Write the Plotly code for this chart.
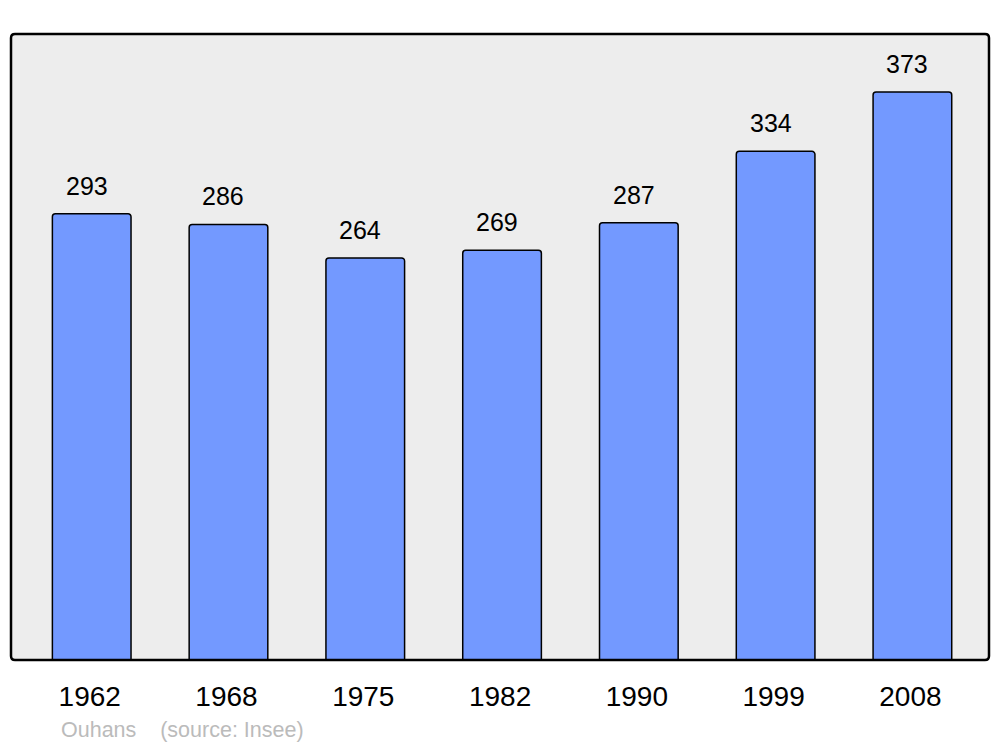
import plotly.graph_objects as go

years = ["1962", "1968", "1975", "1982", "1990", "1999", "2008"]
population = [293, 286, 264, 269, 287, 334, 373]
commune = "Ouhans"
source = "(source: Insee)"

fig = go.Figure()
fig.add_trace(go.Bar(
    x=years, y=population, width=0.575,
    marker=dict(color="#7399ff", line=dict(color="#000000", width=1.5)),
    hoverinfo="skip",
))

for i, v in enumerate(population):
    fig.add_annotation(x=i, y=v, text=str(v), showarrow=False,
                       yanchor="middle", yshift=28, xshift=-5,
                       font=dict(family="Liberation Sans, Arial", size=25, color="#000"))

fig.add_annotation(xref="paper", yref="paper", x=48/978, y=-(730-660)/626,
                   xanchor="left", yanchor="middle", showarrow=False,
                   text=commune + "\u00a0\u00a0\u00a0\u00a0" + source,
                   font=dict(family="Liberation Sans, Arial", size=21.5, color="#bbbbbb"))

# rounded plot frame
rx, ry = 4 / 978, 4 / 626
path = (f"M {rx},0 L {1-rx},0 Q 1,0 1,{ry} L 1,{1-ry} Q 1,1 {1-rx},1 "
        f"L {rx},1 Q 0,1 0,{1-ry} L 0,{ry} Q 0,0 {rx},0 Z")
fig.add_shape(type="path", xref="paper", yref="paper", path=path,
              line=dict(color="#000", width=2.5), fillcolor="rgba(0,0,0,0)", layer="above")

fig.update_layout(
    width=1000, height=747,
    margin=dict(l=11, r=11, t=34, b=87),
    plot_bgcolor="#ededed", paper_bgcolor="#ffffff",
    showlegend=False, barcornerradius=3,
    xaxis=dict(type="category", range=[-0.59, 6.56], showgrid=False, zeroline=False,
               ticks="outside", ticklen=11, tickcolor="rgba(0,0,0,0)", ticklabelshift=-2,
               tickfont=dict(family="Liberation Sans, Arial", size=28, color="#000")),
    yaxis=dict(range=[0, 411], showgrid=False, zeroline=False, showticklabels=False),
)

fig.write_html("out.html", config={"displayModeBar": False},
               post_script="document.body.style.margin='0';")
